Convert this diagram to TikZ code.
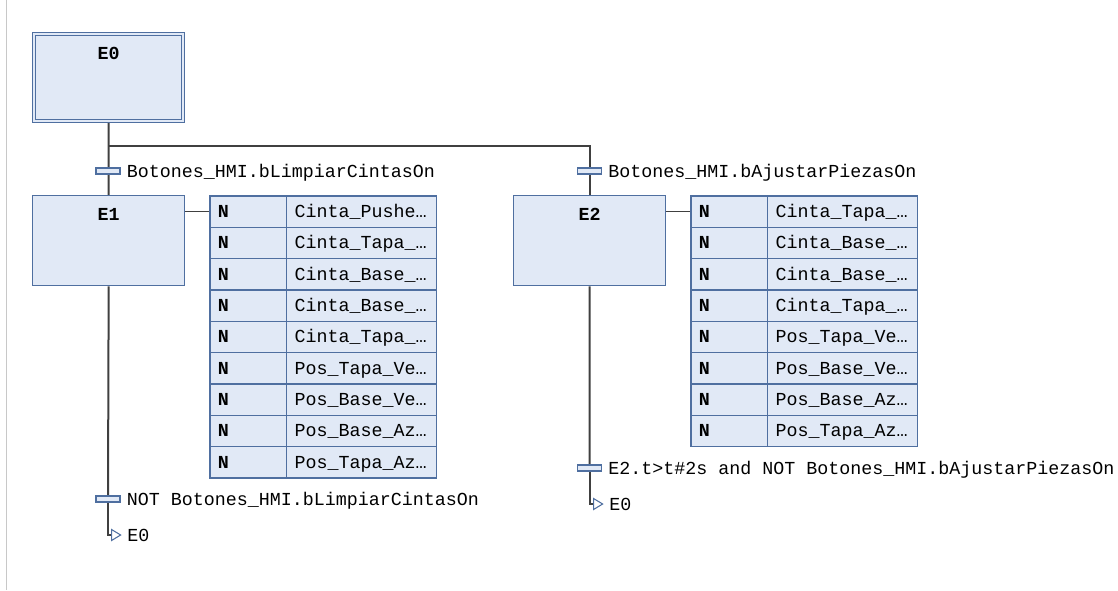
\documentclass[tikz,border=0pt]{standalone}
\usepackage{fontspec}
\newfontfamily\plcfont{Liberation Mono}
\newcommand\plc{\plcfont\fontsize{13.75pt}{16pt}\selectfont}
\usetikzlibrary{calc,positioning,matrix,backgrounds,arrows.meta}
\definecolor{pasofondo}{HTML}{E1E9F6}
\definecolor{pasoborde}{HTML}{4F6FA0}
\definecolor{cablegris}{HTML}{404040}
\definecolor{marco}{HTML}{C8C8C8}
\tikzset{
    etapa/.style={
        rectangle,
        draw=pasoborde,
        fill=pasofondo,
        line width=1pt,
        anchor=north west,
        minimum width=114pt,
        minimum height=67.5pt,
        inner sep=0pt,
    },
    etapa inicial/.style={
        etapa,
        line width=0.9pt,
        double=pasofondo,
        double distance=1.4pt,
        minimum width=111.75pt,
        minimum height=65.25pt,
    },
    nombre/.style={
        anchor=north,
        yshift=-10pt,
        inner sep=0pt,
        font=\plc\bfseries,
    },
    transicion/.style={
        rectangle,
        draw=pasoborde,
        fill=pasofondo,
        line width=0.8pt,
        minimum width=18pt,
        minimum height=4.5pt,
        inner sep=0pt,
    },
    condicion/.style={
        anchor=west,
        inner sep=0pt,
        text height=9.4pt,
        text depth=0pt,
    },
    celda/.style={
        rectangle,
        draw=pasoborde,
        fill=pasofondo,
        line width=1pt,
        align=left,
        inner xsep=6pt,
        inner ysep=0pt,
        minimum height=23.5pt,
        text height=11pt,
        text depth=2pt,
        outer sep=0pt,
    },
    tabla/.style={
        matrix of nodes,
        row sep=-1pt,
        column sep=-1pt,
        inner sep=0pt,
        anchor=north west,
        nodes={celda},
        column 1/.style={nodes={text width=45.5pt,font=\plc\bfseries}},
        column 2/.style={nodes={text width=100.5pt}},
    },
    enlace/.style={
        draw=cablegris,
        line width=1.5pt,
    },
    accion/.style={
        enlace,
        line width=1pt,
    },
    salto/.style={
        enlace,
        -{Triangle[open,length=8pt,width=9.5pt,line width=0.8pt,color=pasoborde]},
        shorten >=4pt,
    },
}

\begin{document}
\begin{tikzpicture}[x=0.75pt,y=-0.75pt,font=\plc]
    \useasboundingbox (0,0) rectangle (1118,590);
    \draw[marco,line width=0.75pt] (6,0) -- (6,590);

    % etapas
    \node[etapa inicial,label={[nombre]north:E0}] (E0) at (33.5,33.5) {};
    \node[etapa,label={[nombre]north:E1}] (E1) at (32,195) {};
    \node[etapa,label={[nombre]north:E2}] (E2) at (513,195) {};
    \coordinate (bif) at (108,146);

    % transiciones
    \node[transicion] (t1) at (108,171) {};
    \node[condicion,right=4.5pt of t1] (c1) {Botones\_HMI.bLimpiarCintasOn};
    \node[transicion] (t2) at (589.5,171) {};
    \node[condicion,right=4.5pt of t2] (c2) {Botones\_HMI.bAjustarPiezasOn};
    \node[transicion] (t3) at (108,499) {};
    \node[condicion,right=4.5pt of t3] (c3) {NOT Botones\_HMI.bLimpiarCintasOn};
    \node[transicion] (t4) at (589.5,468) {};
    \node[condicion,right=4.5pt of t4] (c4) {E2.t>t\#2s and NOT Botones\_HMI.bAjustarPiezasOn};
    \node[condicion] (j1) at ($(t3.center)+(19,36)$) {E0};
    \node[condicion] (j2) at ($(t4.center)+(19.5,36)$) {E0};

    % acciones
    \matrix[tabla] (acc1) at (209,195) {
        N & Cinta\_Pushe… \\
        N & Cinta\_Tapa\_… \\
        N & Cinta\_Base\_… \\
        N & Cinta\_Base\_… \\
        N & Cinta\_Tapa\_… \\
        N & Pos\_Tapa\_Ve… \\
        N & Pos\_Base\_Ve… \\
        N & Pos\_Base\_Az… \\
        N & Pos\_Tapa\_Az… \\
    };
    \matrix[tabla] (acc2) at (690,195) {
        N & Cinta\_Tapa\_… \\
        N & Cinta\_Base\_… \\
        N & Cinta\_Base\_… \\
        N & Cinta\_Tapa\_… \\
        N & Pos\_Tapa\_Ve… \\
        N & Pos\_Base\_Ve… \\
        N & Pos\_Base\_Az… \\
        N & Pos\_Tapa\_Az… \\
    };

    \begin{scope}[on background layer]
        \draw[enlace] (E0.south) -- (E1.north);
        \draw[enlace] (bif) -| (E2.north);
        \draw[enlace] (E1.south) -- (t3.center);
        \draw[salto] (t3.center) |- (j1.west);
        \draw[enlace] (E2.south) -- (t4.center);
        \draw[salto] (t4.center) |- (j2.west);
        \draw[accion] (E1.east |- acc1-1-1.west) -- (acc1-1-1.west);
        \draw[accion] (E2.east |- acc2-1-1.west) -- (acc2-1-1.west);
    \end{scope}
\end{tikzpicture}
\end{document}
